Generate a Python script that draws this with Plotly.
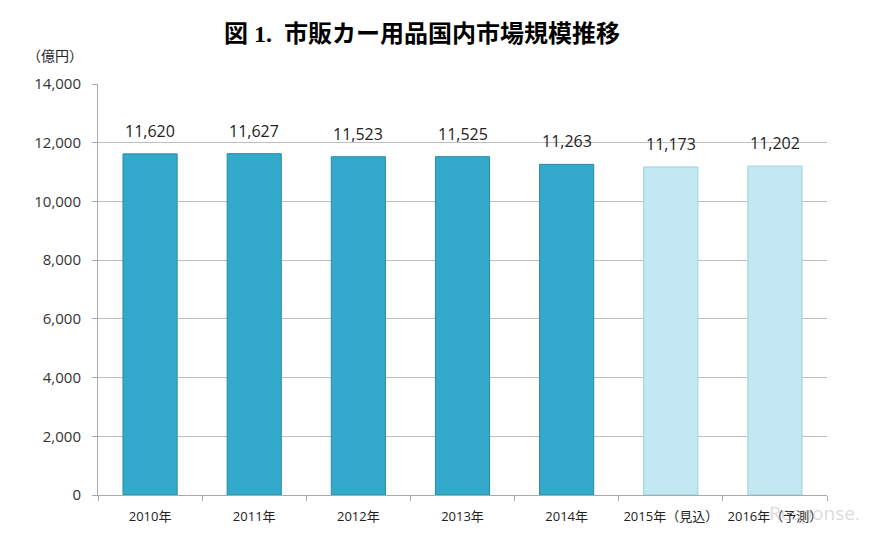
import plotly.graph_objects as go

categories = ["2010年", "2011年", "2012年", "2013年", "2014年", "2015年（見込）", "2016年（予測）"]
values = [11620, 11627, 11523, 11525, 11263, 11173, 11202]
bar_colors = ["#33a9cc"] * 5 + ["#c2e9f3"] * 2
line_colors = ["#2a8aa6"] * 5 + ["#9ccfdc"] * 2

fig = go.Figure()
fig.add_trace(go.Bar(
    x=categories, y=values, width=0.52,
    marker=dict(color=bar_colors, line=dict(color=line_colors, width=1)),
    cliponaxis=False,
))

label_annots = [
    dict(x=c, y=v, xref="x", yref="y", text=f"{v:,}", showarrow=False,
         yanchor="bottom", yshift=10,
         font=dict(family="Open Sans, Noto Sans CJK JP", size=16, color="#222"))
    for c, v in zip(categories, values)
]

fig.update_layout(
    width=867, height=525,
    margin=dict(l=90, r=48, t=76, b=38, autoexpand=False),
    paper_bgcolor="white", plot_bgcolor="white",
    showlegend=False,
    title=dict(text="<b>図 1.  市販カー用品国内市場規模推移</b>", x=0.4775, xanchor="center", y=0.952, yanchor="middle",
               font=dict(family="Liberation Serif, Noto Sans CJK JP", size=24, color="#000")),
    font=dict(family="Open Sans, Noto Sans CJK JP", color="#333"),
    annotations=label_annots + [
        dict(text="（億円）", x=-0.1, y=1.07, xref="paper", yref="paper", xanchor="left", yanchor="middle",
             showarrow=False, font=dict(family="Noto Sans CJK JP", size=14, color="#222")),
        dict(text="Response.", x=1.048, y=-0.045, xref="paper", yref="paper", xanchor="right", yanchor="middle",
             showarrow=False,
             font=dict(family="Open Sans", size=19, color="rgba(150,150,150,0.35)")),
    ],
)
fig.update_yaxes(range=[0, 14000], dtick=2000, tickformat=",",
                 showgrid=True, gridcolor="#bfbfbf", gridwidth=1,
                 showline=True, linecolor="#aaaaaa", linewidth=1,
                 ticks="outside", ticklen=5, tickcolor="#aaaaaa", ticklabelstandoff=8,
                 tickfont=dict(size=15, color="#333"), zeroline=False)
fig.update_xaxes(showline=True, linecolor="#aaaaaa", linewidth=1,
                 ticks="outside", ticklen=5, tickcolor="#aaaaaa", tickson="boundaries",
                 tickangle=0, ticklabelstandoff=9,
                 tickfont=dict(size=13, color="#222", family="Open Sans, Noto Sans CJK JP"))

fig.write_html("out.html")
